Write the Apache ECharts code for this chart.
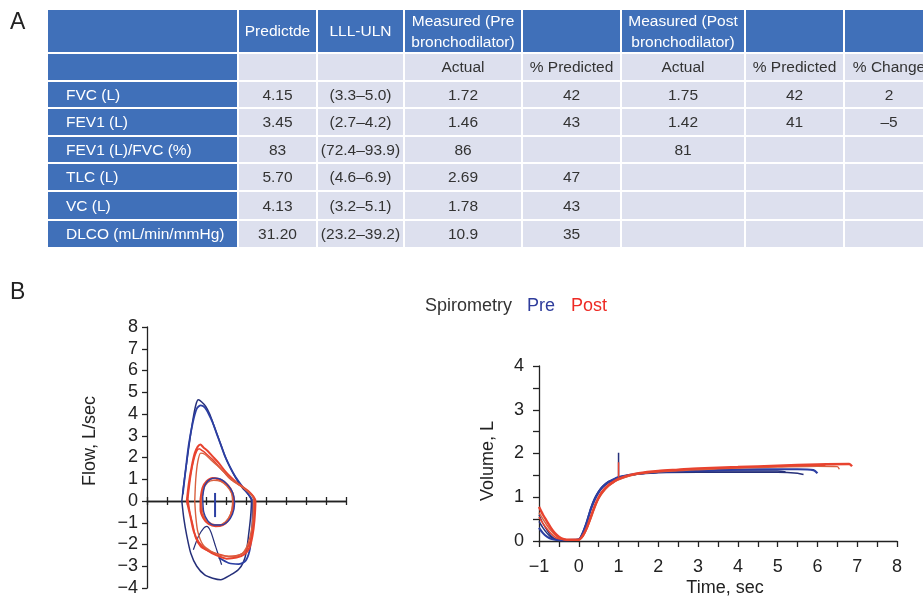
<!DOCTYPE html>
<html>
<head>
<meta charset="utf-8">
<script src="https://cdn.jsdelivr.net/npm/echarts@6/dist/echarts.min.js"></script>
<style>html,body{margin:0;padding:0;background:#fff;}#c{width:923px;height:600px;}</style>
</head>
<body>
<div id="c"></div>
<script>
// ---------- Table data (panel A) ----------
const headerRow1 = ['', 'Predictde', 'LLL-ULN', 'Measured (Pre\nbronchodilator)', '', 'Measured (Post\nbronchodilator)', '', ''];
const headerRow2 = ['', '', '', 'Actual', '% Predicted', 'Actual', '% Predicted', '% Change'];
const rowLabels = ['FVC (L)', 'FEV1 (L)', 'FEV1 (L)/FVC (%)', 'TLC (L)', 'VC (L)', 'DLCO (mL/min/mmHg)'];
const predicted = ['4.15', '3.45', '83', '5.70', '4.13', '31.20'];
const lllUln = ['(3.3–5.0)', '(2.7–4.2)', '(72.4–93.9)', '(4.6–6.9)', '(3.2–5.1)', '(23.2–39.2)'];
const preActual = ['1.72', '1.46', '86', '2.69', '1.78', '10.9'];
const prePredicted = ['42', '43', '', '47', '43', '35'];
const postActual = ['1.75', '1.42', '81', '', '', ''];
const postPredicted = ['42', '41', '', '', '', ''];
const pctChange = ['2', '–5', '', '', '', ''];

// ---------- Flow-volume loops (panel B left): [volume, flow] ----------
const fvPreForced1 = [[1.75,0],[1.85,0.8],[2.0,1.8],[2.15,2.8],[2.3,3.7],[2.45,4.4],[2.58,4.65],[2.75,4.55],[2.95,4.35],[3.15,4.0],[3.35,3.5],[3.55,3.0],[3.75,2.5],[3.95,2.0],[4.2,1.5],[4.5,1.0],[4.8,0.6],[5.1,0.3],[5.25,0],[5.2,-0.8],[5.1,-1.6],[5.0,-2.3],[4.85,-2.8],[4.6,-3.15],[4.2,-3.4],[3.7,-3.62],[3.3,-3.55],[2.9,-3.4],[2.5,-3.0],[2.2,-2.4],[2.0,-1.6],[1.85,-0.8],[1.75,0]];
const fvPreForced2 = [[1.8,0.3],[1.95,1.5],[2.1,2.6],[2.3,3.6],[2.5,4.25],[2.7,4.4],[2.9,4.3],[3.1,4.0],[3.3,3.6],[3.5,3.1],[3.7,2.6],[3.9,2.1],[4.15,1.6],[4.45,1.1],[4.8,0.65],[5.1,0.3],[5.3,0],[5.3,-0.8],[5.25,-1.6],[5.15,-2.3],[4.95,-2.75],[4.6,-2.9],[4.1,-2.85],[3.6,-2.6]];
const fvPreInner = [[2.33,-2.24],[2.6,-1.6],[2.85,-1.25],[3.0,-1.17],[3.2,-1.4],[3.45,-2.1],[3.75,-2.93]];
const fvPreSpike = [[3.42,0.37],[3.42,-0.74]];
const fvPreTidal = [[2.8,0.2],[2.9,0.7],[3.1,0.95],[3.4,1.05],[3.7,1.0],[4.0,0.8],[4.3,0.4],[4.4,-0.1],[4.3,-0.6],[4.05,-0.95],[3.7,-1.1],[3.35,-1.1],[3.05,-0.9],[2.85,-0.5],[2.8,0.2]];
const fvPostForced1 = [[2.0,0],[2.1,0.8],[2.25,1.6],[2.4,2.2],[2.55,2.5],[2.68,2.6],[2.85,2.45],[3.05,2.3],[3.3,2.05],[3.6,1.75],[3.9,1.4],[4.2,1.1],[4.5,0.85],[4.8,0.65],[5.1,0.45],[5.35,0.2],[5.45,0],[5.4,-0.9],[5.3,-1.6],[5.15,-2.15],[4.9,-2.45],[4.5,-2.6],[4.0,-2.65],[3.5,-2.5],[3.0,-2.25],[2.6,-1.9],[2.35,-1.4],[2.2,-0.8],[2.0,0]];
const fvPostForced2 = [[2.05,0.1],[2.2,1.2],[2.35,1.9],[2.5,2.3],[2.62,2.4],[2.8,2.3],[3.0,2.15],[3.3,1.9],[3.6,1.6],[3.9,1.3],[4.2,1.0],[4.6,0.75],[5.0,0.5],[5.3,0.25],[5.4,0],[5.35,-1.0],[5.2,-1.8],[4.95,-2.3],[4.6,-2.5],[4.1,-2.55],[3.6,-2.45],[3.1,-2.3],[2.7,-2.1],[2.45,-1.7],[2.3,-1.1],[2.15,-0.5],[2.05,0.1]];
const fvPostForced3 = [[2.4,0],[2.45,1.0],[2.55,1.8],[2.7,2.2],[2.9,2.15],[3.2,1.9],[3.5,1.65],[3.9,1.3],[4.3,0.95],[4.7,0.7],[5.1,0.4],[5.35,0.1],[5.3,-1.0],[5.1,-1.9],[4.8,-2.4],[4.3,-2.55],[3.7,-2.5],[3.2,-2.3],[2.8,-2.0],[2.55,-1.4],[2.45,-0.7],[2.4,0]];
const fvPostTidal1 = [[2.7,0.1],[2.8,0.6],[3.0,0.9],[3.3,1.05],[3.6,1.0],[3.9,0.85],[4.2,0.55],[4.35,0.1],[4.3,-0.4],[4.1,-0.85],[3.8,-1.1],[3.45,-1.15],[3.1,-1.05],[2.85,-0.8],[2.7,-0.4],[2.7,0.1]];
const fvPostTidal2 = [[2.75,0.0],[2.85,0.55],[3.05,0.85],[3.35,0.95],[3.7,0.9],[4.0,0.7],[4.25,0.35],[4.3,-0.1],[4.2,-0.6],[3.95,-0.95],[3.6,-1.1],[3.25,-1.05],[2.95,-0.85],[2.8,-0.5],[2.75,0.0]];

// ---------- Volume-time curves (panel B right): [time, volume] ----------
const vtPre1 = [[-1,0.45],[-0.9,0.3],[-0.8,0.18],[-0.7,0.09],[-0.6,0.04],[-0.5,0.02],[-0.2,0.02],[0,0.04],[0.1,0.2],[0.2,0.45],[0.3,0.75],[0.4,0.98],[0.5,1.14],[0.6,1.25],[0.75,1.36],[0.9,1.42],[1.0,1.46],[1.2,1.5],[1.5,1.53],[2.0,1.56],[3.0,1.57],[4.0,1.57],[5.0,1.57],[5.5,1.55],[5.65,1.52]];
const vtPre2 = [[-1,0.3],[-0.9,0.18],[-0.8,0.1],[-0.7,0.05],[-0.5,0.02],[0,0.03],[0.1,0.18],[0.2,0.42],[0.3,0.72],[0.4,0.95],[0.5,1.12],[0.6,1.24],[0.75,1.35],[0.9,1.42],[1.0,1.46],[1.5,1.54],[2.0,1.58],[3.0,1.61],[4.0,1.63],[5.0,1.64],[5.5,1.64],[5.9,1.62],[6.0,1.55]];
const vtPre3 = [[-1,0.6],[-0.9,0.4],[-0.8,0.25],[-0.7,0.12],[-0.6,0.05],[-0.4,0.02],[0,0.03],[0.1,0.16],[0.2,0.4],[0.3,0.7],[0.4,0.93],[0.5,1.1],[0.6,1.22],[0.75,1.33],[0.9,1.41],[1.0,1.45],[1.5,1.53],[2.0,1.57],[3.0,1.59],[4.0,1.6],[5.0,1.6],[5.2,1.58]];
const vtPreSpike = [[1.0,1.47],[1.0,2.02]];
const vtPost1 = [[-1,0.78],[-0.9,0.6],[-0.8,0.45],[-0.7,0.3],[-0.6,0.18],[-0.5,0.1],[-0.4,0.05],[-0.3,0.03],[0,0.03],[0.1,0.12],[0.2,0.3],[0.3,0.55],[0.4,0.8],[0.5,1.0],[0.6,1.14],[0.75,1.28],[0.9,1.37],[1.0,1.42],[1.25,1.5],[1.5,1.55],[2.0,1.6],[2.5,1.63],[3.0,1.66],[4.0,1.69],[5.0,1.72],[6.0,1.75],[6.8,1.76],[6.87,1.71]];
const vtPost2 = [[-1,0.65],[-0.9,0.5],[-0.8,0.36],[-0.7,0.24],[-0.6,0.14],[-0.5,0.07],[-0.3,0.03],[0,0.03],[0.1,0.1],[0.2,0.27],[0.3,0.5],[0.4,0.75],[0.5,0.96],[0.6,1.1],[0.75,1.25],[0.9,1.35],[1.0,1.4],[1.25,1.48],[1.5,1.53],[2.0,1.58],[3.0,1.63],[4.0,1.67],[5.0,1.69],[6.0,1.71],[6.5,1.7],[6.55,1.64]];
const vtPost3 = [[-1,0.55],[-0.9,0.4],[-0.8,0.28],[-0.7,0.17],[-0.6,0.09],[-0.5,0.05],[-0.3,0.03],[0,0.03],[0.1,0.11],[0.2,0.29],[0.3,0.53],[0.4,0.78],[0.5,0.98],[0.6,1.12],[0.75,1.27],[0.9,1.36],[1.0,1.41],[1.5,1.54],[2.0,1.59],[3.0,1.64],[4.0,1.68],[5.0,1.71],[5.3,1.72],[6.2,1.73]];
const vtPostSpike = [[1.0,1.45],[1.0,1.8]];

// ---------- Layout / style ----------
const FONT = '"Liberation Sans", Arial, Helvetica, sans-serif';
const BLUE = '#2c3fa3';
const NAVY = '#26307a';
const RED = '#e8432f';
const AXIS = '#222';
const CELL_BLUE = '#4070b9';
const CELL_LIGHT = '#dde0ee';
const colEdges = [47, 238, 317, 404, 522, 621, 745, 844, 944];
const rowEdges = [9, 53, 81, 108, 136, 163, 191, 220, 248];

const graphics = [];
function cellText(text, x, y, fill, align) {
  graphics.push({type: 'text', x: x, y: y, silent: true, z: 10,
    style: {text: text, fill: fill, font: '15.5px ' + FONT, align: align || 'center', verticalAlign: 'middle', lineHeight: 21}});
}
const tableRows = [headerRow1, headerRow2];
for (let i = 0; i < rowLabels.length; i++) {
  tableRows.push([rowLabels[i], predicted[i], lllUln[i], preActual[i], prePredicted[i], postActual[i], postPredicted[i], pctChange[i]]);
}
for (let r = 0; r < tableRows.length; r++) {
  for (let c = 0; c < tableRows[r].length; c++) {
    const x0 = colEdges[c], x1 = colEdges[c + 1], y0 = rowEdges[r], y1 = rowEdges[r + 1];
    const blue = (r === 0) || (c === 0);
    graphics.push({type: 'rect', silent: true, z: 5,
      shape: {x: x0 + 1, y: y0 + 1, width: x1 - x0 - 2, height: y1 - y0 - 2},
      style: {fill: blue ? CELL_BLUE : CELL_LIGHT}});
    const t = tableRows[r][c];
    if (t) {
      if (c === 0) cellText(t, 66, (y0 + y1) / 2 + 1, '#fff', 'left');
      else cellText(t, (c === 7 ? 889 : (x0 + x1) / 2), (y0 + y1) / 2 + 1, blue ? '#fff' : '#333');
    }
  }
}
// panel letters
graphics.push({type: 'text', x: 10, y: 23, style: {text: 'A', fill: '#222', font: '23px ' + FONT, verticalAlign: 'middle'}});
graphics.push({type: 'text', x: 10, y: 293, style: {text: 'B', fill: '#222', font: '23px ' + FONT, verticalAlign: 'middle'}});
// title
graphics.push({type: 'text', x: 425, y: 306, style: {text: 'Spirometry', fill: '#333', font: '18px ' + FONT, verticalAlign: 'middle'}});
graphics.push({type: 'text', x: 527, y: 306, style: {text: 'Pre', fill: '#2f3d9c', font: '18px ' + FONT, verticalAlign: 'middle'}});
graphics.push({type: 'text', x: 571, y: 306, style: {text: 'Post', fill: '#ee2a24', font: '18px ' + FONT, verticalAlign: 'middle'}});
// axis names
graphics.push({type: 'text', x: 90, y: 441, rotation: Math.PI / 2, style: {text: 'Flow, L/sec', fill: '#222', font: '18px ' + FONT, align: 'center', verticalAlign: 'middle'}});
graphics.push({type: 'text', x: 488, y: 461, rotation: Math.PI / 2, style: {text: 'Volume, L', fill: '#222', font: '18px ' + FONT, align: 'center', verticalAlign: 'middle'}});
graphics.push({type: 'text', x: 725, y: 588, style: {text: 'Time, sec', fill: '#222', font: '18px ' + FONT, align: 'center', verticalAlign: 'middle'}});

const minusFmt = v => String(v).replace('-', '−');
const lineStyleAxis = {color: AXIS, width: 1.3};

function ln(data, color, xi, yi, w) {
  return {type: 'line', data: data, xAxisIndex: xi, yAxisIndex: yi, showSymbol: false, symbol: 'none',
    smooth: 0.25, lineStyle: {color: color, width: w || 1.5}, silent: true, z: 3};
}

const option = {
  animation: false,
  backgroundColor: '#fff',
  textStyle: {fontFamily: FONT},
  graphic: graphics,
  grid: [
    {left: 147, top: 327, width: 199, height: 261},
    {left: 539, top: 366, width: 358, height: 175}
  ],
  xAxis: [
    {gridIndex: 0, type: 'value', min: 0, max: 10, interval: 1,
      axisLine: {onZero: true, lineStyle: lineStyleAxis}, axisTick: {show: true, length: 4, lineStyle: lineStyleAxis},
      axisLabel: {show: false}, splitLine: {show: false}},
    {gridIndex: 0, type: 'value', min: 0, max: 10, interval: 1, position: 'bottom',
      axisLine: {onZero: true, onZeroAxisIndex: 0, lineStyle: lineStyleAxis}, axisTick: {show: true, inside: true, length: 4, lineStyle: lineStyleAxis},
      axisLabel: {show: false}, splitLine: {show: false}},
    {gridIndex: 1, type: 'value', min: -1, max: 8, interval: 1,
      axisLine: {onZero: false, lineStyle: lineStyleAxis}, axisTick: {show: true, length: 6, lineStyle: lineStyleAxis},
      minorTick: {show: true, splitNumber: 2, length: 6, lineStyle: lineStyleAxis},
      axisLabel: {color: '#222', fontSize: 18, margin: 17, formatter: minusFmt}, splitLine: {show: false}}
  ],
  yAxis: [
    {gridIndex: 0, type: 'value', min: -4, max: 8, interval: 1,
      axisLine: {onZero: false, lineStyle: lineStyleAxis}, axisTick: {show: true, length: 5, lineStyle: lineStyleAxis},
      axisLabel: {color: '#222', fontSize: 18, margin: 9, formatter: minusFmt}, splitLine: {show: false}},
    {gridIndex: 1, type: 'value', min: 0, max: 4, interval: 1,
      axisLine: {onZero: false, lineStyle: lineStyleAxis}, axisTick: {show: true, length: 6, lineStyle: lineStyleAxis},
      minorTick: {show: true, splitNumber: 2, length: 6, lineStyle: lineStyleAxis},
      axisLabel: {color: '#222', fontSize: 18, margin: 15}, splitLine: {show: false}}
  ],
  series: [
    ln(fvPreForced1, NAVY, 0, 0),
    ln(fvPreForced2, BLUE, 0, 0, 1.8),
    ln(fvPreInner, NAVY, 0, 0, 1.2),
    ln(fvPreSpike, BLUE, 0, 0, 2),
    ln(fvPostForced1, RED, 0, 0, 2),
    ln(fvPostForced2, RED, 0, 0, 1.6),
    ln(fvPostForced3, '#d9603f', 0, 0, 1.4),
    ln(fvPostTidal1, RED, 0, 0, 2.4),
    ln(fvPostTidal2, '#d9603f', 0, 0, 1.4),
    ln(fvPreTidal, BLUE, 0, 0, 1.4),
    ln(vtPre3, NAVY, 2, 1, 1.3),
    ln(vtPre1, NAVY, 2, 1, 1.5),
    ln(vtPre2, BLUE, 2, 1, 2.2),
    ln(vtPreSpike, NAVY, 2, 1, 1.5),
    ln(vtPost3, RED, 2, 1, 1.5),
    ln(vtPost2, '#d9603f', 2, 1, 1.5),
    ln(vtPost1, RED, 2, 1, 2.4),
    ln(vtPostSpike, RED, 2, 1, 1.5)
  ]
};
const chart = echarts.init(document.getElementById('c'), null, {renderer: 'canvas', width: 923, height: 600});
chart.setOption(option);
</script>
</body>
</html>
